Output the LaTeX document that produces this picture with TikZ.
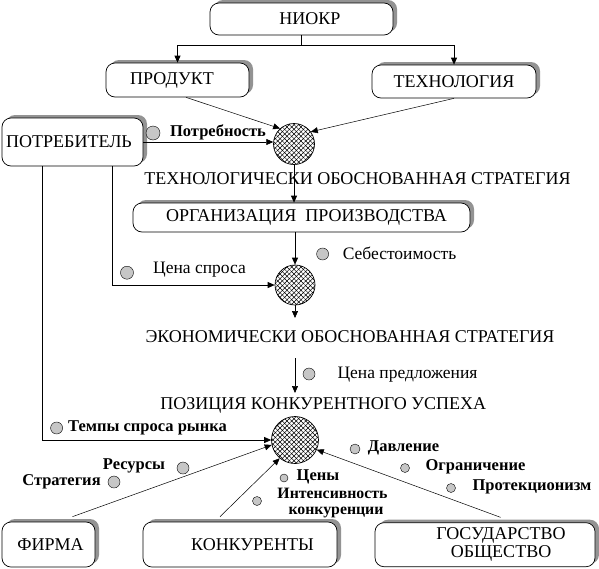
\documentclass[tikz,border=0pt]{standalone}
\usepackage{fontspec}
\setmainfont{Liberation Serif}
\usetikzlibrary{arrows.meta,shadows,patterns.meta,calc}
\begin{document}
\begin{tikzpicture}[x=1pt,y=-1pt,
  font=\fontsize{18}{18}\selectfont,
  box/.style={draw=black, line width=0.7pt, fill=white, rounded corners=9pt, inner sep=0pt,
     drop shadow={shadow xshift=4pt, shadow yshift=3pt, fill=gray!85, opacity=1}},
  hub/.style={circle, draw=black, line width=0.7pt, inner sep=0pt, minimum size=#1,
     pattern={Lines[angle=45,distance=3.3pt,line width=0.5pt]},
     postaction={pattern={Lines[angle=-45,distance=3.3pt,line width=0.5pt]}}},
  dot/.style={circle, draw=black, line width=0.4pt, fill=gray!45, inner sep=0pt, minimum size=#1},
  lbl/.style={inner sep=0pt},
  rlbl/.style={inner sep=0pt, font=\fontsize{17.5}{17.5}\selectfont},
  blbl/.style={inner sep=0pt, align=center, font=\fontsize{16.5}{14}\selectfont\bfseries},
  slbl/.style={inner sep=0pt, font=\fontsize{15.8}{14}\selectfont\bfseries},
  conn/.style={line width=0.7pt, -{Triangle[length=7pt,width=6pt]}},
  tconn/.style={line width=0.5pt, -{Triangle[length=7pt,width=6pt]}},
  plain/.style={line width=0.7pt}
]
\useasboundingbox (0,0) rectangle (599,568);

% boxes
\node[box, minimum width=183pt, minimum height=32pt] (niokr) at (301.5,19) {\hspace*{17pt}НИОКР};
\node[box, minimum width=143pt, minimum height=34pt] (prod) at (177.5,80) {ПРОДУКТ\hspace*{11pt}};
\node[box, minimum width=164pt, minimum height=33pt] (tech) at (454,81.5) {ТЕХНОЛОГИЯ};
\node[box, minimum width=141pt, minimum height=48pt] (potr) at (72.5,142) {ПОТРЕБИТЕЛЬ\hspace*{7pt}};
\node[box, minimum width=337pt, minimum height=29pt] (org) at (301.5,217.5) {\hspace*{10pt}ОРГАНИЗАЦИЯ\ \ ПРОИЗВОДСТВА};
\node[box, minimum width=93pt, minimum height=45pt] (firma) at (48.5,544.5) {\hspace*{4pt}ФИРМА};
\node[box, minimum width=194pt, minimum height=45pt] (konk) at (240,544.5) {\hspace*{25pt}КОНКУРЕНТЫ};
\node[box, minimum width=220pt, minimum height=44pt, align=center, font=\fontsize{18}{18}\selectfont] (gos) at (485,544.7) {\hspace*{32pt}ГОСУДАРСТВО\\\hspace*{32pt}ОБЩЕСТВО};

% hubs
\node[hub=41pt] (c1) at (294,144) {};
\node[hub=40pt] (c2) at (295,285) {};
\node[hub=47pt] (c3) at (295,440) {};

% texts
\node[lbl] (ts) at (357.5,179) {ТЕХНОЛОГИЧЕСКИ ОБОСНОВАННАЯ СТРАТЕГИЯ};
\node[lbl] (es) at (350,336.7) {ЭКОНОМИЧЕСКИ ОБОСНОВАННАЯ СТРАТЕГИЯ};
\node[lbl] (ps) at (323.3,405) {ПОЗИЦИЯ КОНКУРЕНТНОГО УСПЕХА};
\node[blbl] (tpotr) at (218,132) {Потребность};
\node[rlbl] (tcena) at (199.5,270) {Цена спроса};
\node[rlbl] (tseb) at (399.5,253) {Себестоимость};
\node[rlbl] (tpred) at (407.5,375) {Цена предложения};
\node[blbl] (ttemp) at (147.5,428) {Темпы спроса рынка};
\node[blbl] (tdav) at (403.5,448) {Давление};
\node[blbl] (togr) at (475.5,467) {Ограничение};
\node[blbl] (tprot) at (532,487) {Протекционизм};
\node[blbl] (tres) at (134,466) {Ресурсы};
\node[blbl] (tstr) at (61.5,482) {Стратегия};
\node[blbl] (tcen) at (318,477) {Цены};
\node[slbl, anchor=base] (tint1) at (332.5,498.5) {Интенсивность};
\node[slbl, anchor=base] (tint2) at (336,514) {конкуренции};

% dots
\node[dot=14pt] (d1) at (153,133) {};
\node[dot=13pt] (d2) at (127,272.7) {};
\node[dot=12pt] (d3) at (322.6,254) {};
\node[dot=12pt] (d4) at (309,374) {};
\node[dot=12pt] (d5) at (56.6,428) {};
\node[dot=10pt] (d6) at (355,449) {};
\node[dot=9pt] (d7) at (405,468) {};
\node[dot=9pt] (d8) at (451,488) {};
\node[dot=12pt] (d9) at (183,468) {};
\node[dot=12pt] (d10) at (114,482) {};
\node[dot=8pt] (d11) at (284,478) {};
\node[dot=9pt] (d12) at (257,501) {};

% connectors
\coordinate (j) at (301.5,45.7);
\draw[plain] (niokr.south) -- (j);
\draw[conn] (j) -| (prod.north);
\draw[conn] (j) -| (tech.north);
\draw[tconn] ($(prod.south)+(8.5,0)$) -- (c1.132);
\draw[tconn] (tech.south) -- (c1.36);
\draw[conn] (potr.east) -- (potr.east -| c1.west);
\draw[conn] (c1.south) -- (c1.south |- org.north);
\draw[conn] (c2 |- org.south) -- (c2.north);
\draw[conn] ($(potr.south)+(39.5,0)$) |- (c2.west);
\coordinate (e1) at (295,318);
\draw[conn] (c2.south) -- (e1);
\coordinate (e2) at (295,358);
\coordinate (e3) at (295,393);
\draw[conn] (e2) -- (e3);
\draw[conn] ($(potr.south)+(-30.5,0)$) |- (c3.west);
\draw[tconn] ($(firma.north)+(24,-5)$) -- (c3.192);
\draw[tconn] ($(konk.north)+(-20,-5)$) -- (c3.230);
\draw[tconn] ($(gos.north)+(15.6,-5)$) -- (c3.336);
\end{tikzpicture}
\end{document}
